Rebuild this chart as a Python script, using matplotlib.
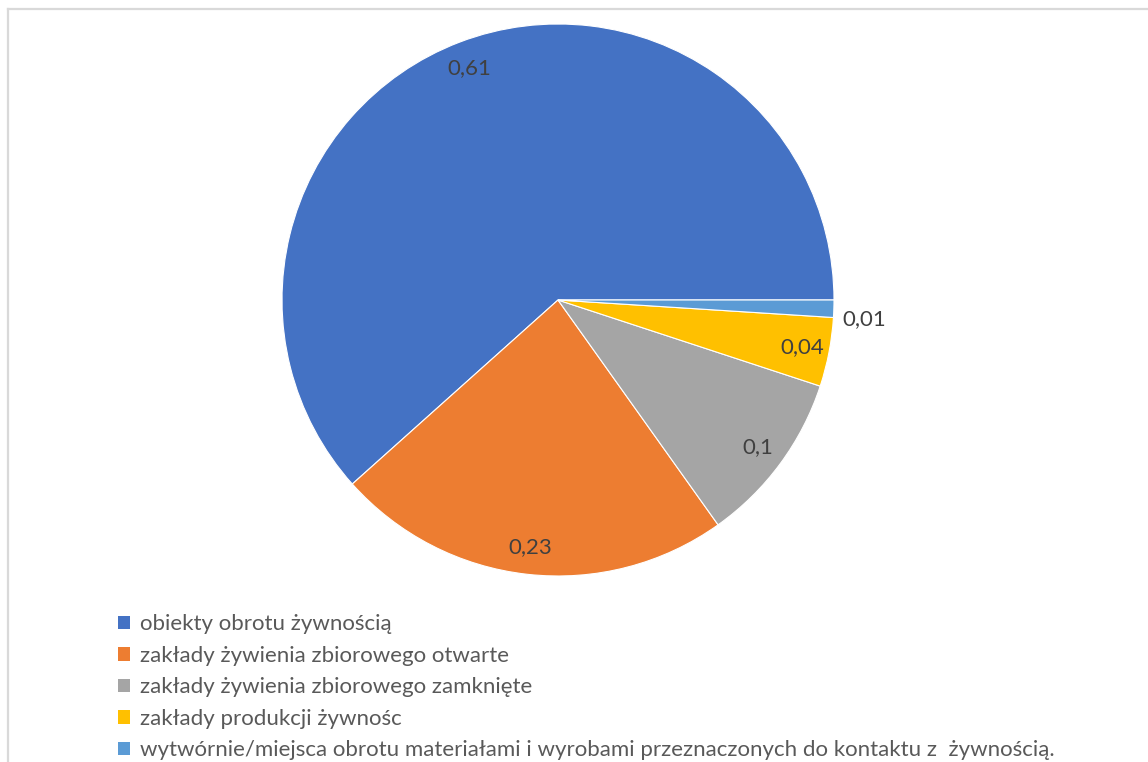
import matplotlib.pyplot as plt
import numpy as np
from matplotlib.lines import Line2D
from matplotlib.patches import Patch

categories = [
    "obiekty obrotu żywnością",
    "zakłady żywienia zbiorowego otwarte",
    "zakłady żywienia zbiorowego zamknięte",
    "zakłady produkcji żywnośc",
    "wytwórnie/miejsca obrotu materiałami i wyrobami przeznaczonych do kontaktu z  żywnością.",
]
values = [0.61, 0.23, 0.1, 0.04, 0.01]
value_labels = ["0,61", "0,23", "0,1", "0,04", "0,01"]
colors = ["#4472C4", "#ED7D31", "#A5A5A5", "#FFC000", "#5B9BD5"]

plt.rcParams["font.family"] = ["Lato", "DejaVu Sans"]

W, H = 1148, 762
fig = plt.figure(figsize=(W / 100, H / 100), dpi=100)

# pie axes: centre (558, 300) px, radius 276 px
cx, cy, r = 558, 300, 276
ax = fig.add_axes([(cx - r) / W, (H - cy - r) / H, 2 * r / W, 2 * r / H])
wedges, _ = ax.pie(values, colors=colors, startangle=0, counterclock=True,
                   radius=1.0, wedgeprops=dict(edgecolor="white", linewidth=0.8))
ax.set_xlim(-1, 1)
ax.set_ylim(-1, 1)
ax.set_aspect("equal")
ax.axis("off")

for w, lab in zip(wedges, value_labels):
    mid = np.deg2rad((w.theta1 + w.theta2) / 2)
    span = w.theta2 - w.theta1
    if span < 6:
        # small slice: label outside, to the right of the edge
        ax.text(1.03 * np.cos(mid), 1.03 * np.sin(mid), lab, ha="left", va="top",
                fontsize=16, color="#404040")
    else:
        ax.text(0.9 * np.cos(mid), 0.9 * np.sin(mid), lab, ha="center", va="center",
                fontsize=16, color="#404040")

# chart border (top and left edges visible)
fig.add_artist(Line2D([8 / W, 1], [1 - 9 / H, 1 - 9 / H], color="#d9d9d9", lw=1.6,
                      transform=fig.transFigure))
fig.add_artist(Line2D([8 / W, 8 / W], [0, 1 - 9 / H], color="#d9d9d9", lw=1.6,
                      transform=fig.transFigure))

handles = [Patch(facecolor=c, edgecolor="none") for c in colors]
fig.legend(handles, categories, loc="upper left", bbox_to_anchor=(107 / W, 1 - 603 / H),
           frameon=False, fontsize=16, labelcolor="#595959", handlelength=0.55,
           handleheight=0.55, handletextpad=0.45, labelspacing=0.52, borderpad=0)

fig.savefig("out.png", dpi=100, facecolor="white")
